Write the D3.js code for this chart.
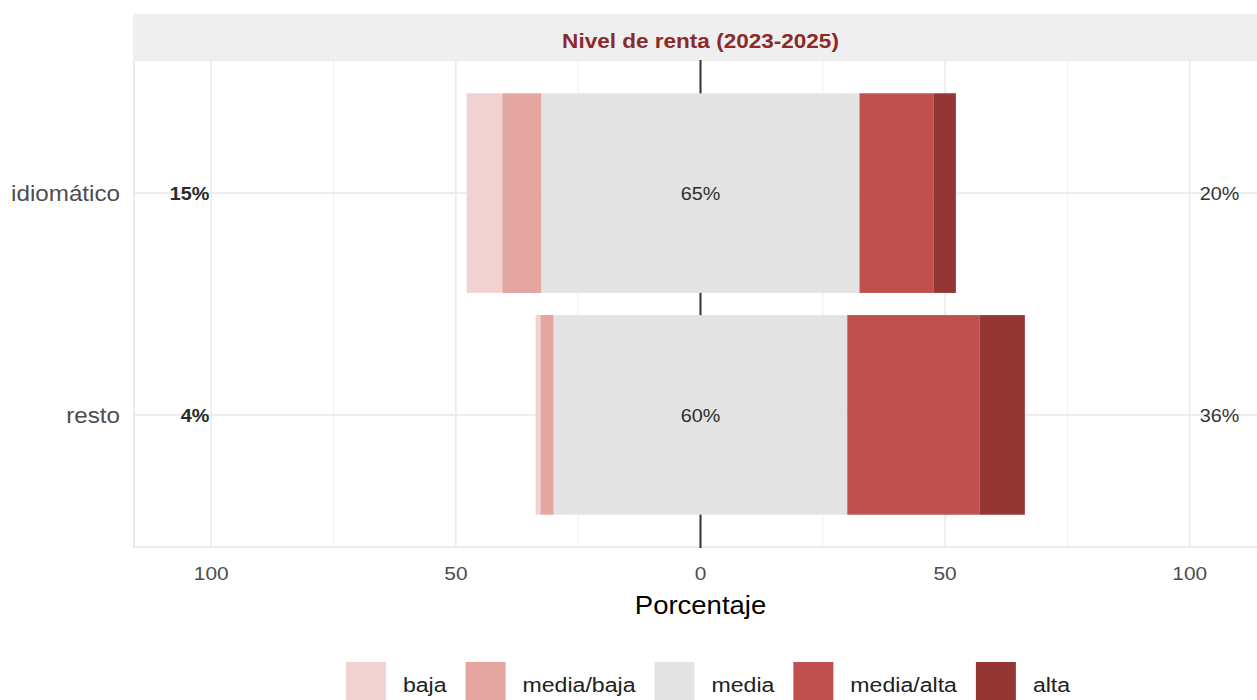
<!DOCTYPE html>
<html>
<head>
<meta charset="utf-8">
<script src="https://cdn.jsdelivr.net/npm/d3@7"></script>
<style>
  body { margin: 0; background: #fff; }
  svg { display: block; font-family: "Liberation Sans", Arial, sans-serif; }
</style>
</head>
<body>
<div class="chart"></div>
<script>
// Data
const categories = ['idiomático', 'resto'];
const levels = ['baja', 'media/baja', 'media', 'media/alta', 'alta'];
const baja = [7.3, 1.0];
const mediaBaja = [8.0, 2.7];
const media = [65, 60];
const mediaAlta = [15.2, 27.1];
const alta = [4.5, 9.2];
const tickValues = [-100, -50, 0, 50, 100];
const tickLabels = ['100', '50', '0', '50', '100'];
const colors = ['#f2d2d1', '#e5a5a1', '#e3e3e3', '#c0504d', '#943634'];

const W = 1257, H = 700;
const stretch = 1.1; // source image text looks a bit wide

const svg = d3.select('.chart')
  .append('svg')
  .attr('width', W)
  .attr('height', H);

// Scales
const x = d3.scaleLinear().domain([-116, 116]).range([133, 1268]);
const y = d3.scaleBand().domain(categories).range([60, 548])
  .paddingInner(0.1).paddingOuter(0.15);

// helper: text with slight horizontal stretch
function label(g, tx, ty, str, opts) {
  const t = g.append('text')
    .attr('transform', `translate(${tx},${ty}) scale(${stretch},1)`)
    .attr('text-anchor', opts.anchor || 'middle')
    .attr('dominant-baseline', opts.baseline || 'central')
    .attr('font-size', opts.size)
    .attr('font-weight', opts.weight || 'normal')
    .attr('fill', opts.fill || '#333')
    .text(str);
  return t;
}

// rows: stacked segments, centred on the neutral level
const rows = categories.map((c, i) => {
  const vals = [baja[i], mediaBaja[i], media[i], mediaAlta[i], alta[i]];
  let start = -(vals[0] + vals[1] + vals[2] / 2);
  const segs = vals.map((v, k) => {
    const s = { cat: c, level: levels[k], x0: start, x1: start + v };
    start += v;
    return s;
  });
  return { cat: c, segs, low: vals[0] + vals[1], mid: vals[2], high: vals[3] + vals[4] };
});

// Panel grid
const panel = svg.append('g');
const [px0, px1] = x.range();
const [py0, py1] = y.range();

panel.selectAll('.minor')
  .data([-75, -25, 25, 75])
  .enter().append('line')
  .attr('x1', d => x(d)).attr('x2', d => x(d))
  .attr('y1', py0).attr('y2', py1)
  .attr('stroke', '#efefef').attr('stroke-width', 1);

panel.selectAll('.major')
  .data(tickValues)
  .enter().append('line')
  .attr('x1', d => x(d)).attr('x2', d => x(d))
  .attr('y1', py0).attr('y2', py1)
  .attr('stroke', '#ebebeb').attr('stroke-width', 1.6);

panel.selectAll('.hgrid')
  .data(categories)
  .enter().append('line')
  .attr('x1', px0).attr('x2', px1)
  .attr('y1', d => y(d) + y.bandwidth() / 2)
  .attr('y2', d => y(d) + y.bandwidth() / 2)
  .attr('stroke', '#ebebeb').attr('stroke-width', 1.6);

// panel border
panel.append('rect')
  .attr('x', px0 + 1).attr('y', py0)
  .attr('width', px1 - px0).attr('height', py1 - py0 - 1)
  .attr('fill', 'none').attr('stroke', '#ebebeb').attr('stroke-width', 2);

// zero line (under the bars)
panel.append('line')
  .attr('x1', x(0)).attr('x2', x(0))
  .attr('y1', py0).attr('y2', py1)
  .attr('stroke', '#333').attr('stroke-width', 2);

// Bars
const color = d3.scaleOrdinal().domain(levels).range(colors);
svg.append('g').selectAll('rect')
  .data(rows.flatMap(r => r.segs))
  .enter().append('rect')
  .attr('x', d => x(d.x0))
  .attr('width', d => x(d.x1) - x(d.x0))
  .attr('y', d => y(d.cat))
  .attr('height', y.bandwidth())
  .attr('fill', d => color(d.level));

// Percent labels
const lab = svg.append('g');
rows.forEach(r => {
  const cy = y(r.cat) + y.bandwidth() / 2 + 1;
  label(lab, x(-100) - 2, cy, Math.round(r.low) + '%', { size: 18, anchor: 'end', weight: 'bold', fill: '#2a2a2a' });
  label(lab, x(0), cy, Math.round(r.mid) + '%', { size: 18, fill: '#2e2e2e' });
  label(lab, x(100) + 10, cy, Math.round(r.high) + '%', { size: 18, anchor: 'start', fill: '#333' });
});

// Strip
svg.append('rect')
  .attr('x', px0).attr('y', 14)
  .attr('width', px1 - px0).attr('height', py0 - 14)
  .attr('fill', '#efefef');
label(svg, x(0), 41, 'Nivel de renta (2023-2025)', { size: 20.5, weight: 'bold', fill: '#8b2a2a' });

// Y axis labels
const yAxis = svg.append('g');
categories.forEach(c => {
  label(yAxis, 120, y(c) + y.bandwidth() / 2, c, { size: 22, anchor: 'end', fill: '#4d4d4d' });
});

// X axis labels
const xAxis = svg.append('g');
tickValues.forEach((v, i) => {
  label(xAxis, x(v), 573, tickLabels[i], { size: 19, fill: '#4d4d4d' });
});
label(svg, x(0), 605, 'Porcentaje', { size: 25, fill: '#000' });

// Legend
const legend = svg.append('g');
const items = levels.map((l, i) => {
  const g = legend.append('g');
  g.append('rect').attr('x', 0).attr('y', 662).attr('width', 40).attr('height', 40)
    .attr('fill', colors[i]);
  const t = label(g, 57, 685, l, { size: 21, anchor: 'start', fill: '#222' });
  const w = 57 + t.node().getComputedTextLength() * stretch;
  return { g, w };
});
const gap = 19;
const total = d3.sum(items, d => d.w) + gap * (items.length - 1);
let lx = 708 - total / 2;
items.forEach(it => {
  it.g.attr('transform', `translate(${lx},0)`);
  lx += it.w + gap;
});
</script>
</body>
</html>
